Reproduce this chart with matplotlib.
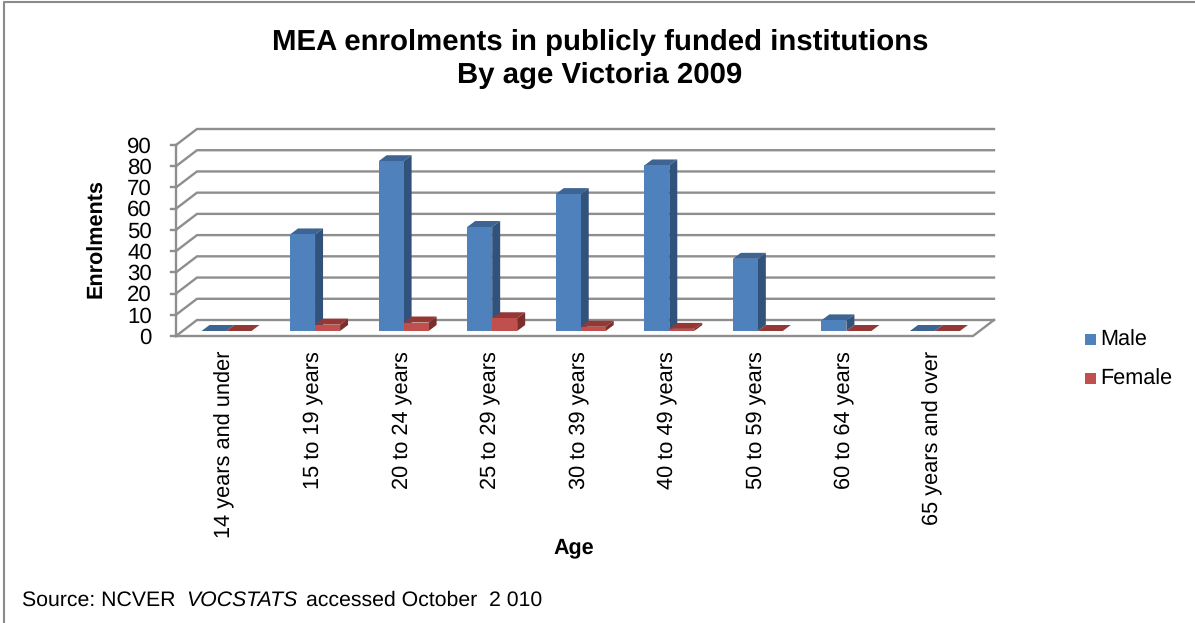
import matplotlib
matplotlib.use('Agg')
import matplotlib.pyplot as plt
from matplotlib.patches import Polygon, Rectangle

categories = ['14 years and under', '15 to 19 years', '20 to 24 years', '25 to 29 years',
              '30 to 39 years', '40 to 49 years', '50 to 59 years', '60 to 64 years',
              '65 years and over']
male = [0, 45.5, 80, 49, 64.5, 78, 34, 5, 0]
female = [0, 3, 4, 6, 2, 1, 0, 0, 0]
y_ticks = [0, 10, 20, 30, 40, 50, 60, 70, 80, 90]

W, H = 1195, 623
plt.rcParams['font.family'] = ['Liberation Sans', 'DejaVu Sans']
plt.rcParams['text.hinting'] = 'none'

fig = plt.figure(figsize=(W / 100, H / 100), dpi=100)
# front plane of the fake 3d box, in pixels
left, right, top, bottom = 176, 973, 145, 336
ax = fig.add_axes([left / W, 1 - bottom / H, (right - left) / W, (bottom - top) / H])
ax.set_xlim(0, 9)
ax.set_ylim(0, 90)
ax.axis('off')

# depth of the box and of the bars, in data units
ux = 9 / (right - left)
uy = 90 / (bottom - top)
box_dx, box_dy = 21 * ux, 16 * uy
bar_dx, bar_dy = 8 * ux, 6 * uy
bar_w = 25 * ux
bar_off = 25.5 * ux
base = 5 * uy


def box_bar(x, val, front, side, topc):
    y0 = base
    y1 = base + val
    ax.add_patch(Polygon([(x, y1), (x + bar_w, y1), (x + bar_w + bar_dx, y1 + bar_dy), (x + bar_dx, y1 + bar_dy)],
                         fc=topc, ec='none', zorder=3, clip_on=False))
    if val > 0:
        ax.add_patch(Polygon([(x + bar_w, y0), (x + bar_w + bar_dx, y0 + bar_dy), (x + bar_w + bar_dx, y1 + bar_dy), (x + bar_w, y1)],
                             fc=side, ec='none', zorder=3, clip_on=False))
        ax.add_patch(Rectangle((x, y0), bar_w, y1 - y0, fc=front, ec='none', zorder=4, clip_on=False))


grid = '#8e8e8e'
for t in y_ticks:
    ax.plot([0, box_dx, 9 + box_dx], [t, t + box_dy, t + box_dy], color=grid, lw=1.7, zorder=1, clip_on=False,
            solid_joinstyle='miter')
    ax.plot([-5 * ux, 0], [t, t], color=grid, lw=1.7, zorder=2, clip_on=False)
    ax.text(-24 * ux, t - 0.9, str(t), ha='right', va='center', fontsize=16, color='black')
ax.plot([0, 0], [0, 90], color=grid, lw=1.7, zorder=2, clip_on=False)
ax.plot([0, 9, 9 + box_dx], [0, 0, box_dy], color=grid, lw=1.7, zorder=2, clip_on=False)

for i, cat in enumerate(categories):
    x = i + bar_off
    box_bar(x, male[i], '#4f81bd', '#31527a', '#3d6493')
    box_bar(x + bar_w, female[i], '#c0504d', '#7a2f2d', '#953735')
    ax.text(i + 0.5 + 4 * ux, -15 * uy, cat, rotation=90, ha='center', va='top', fontsize=15.7, color='black')

# frame only has left and top edges in the picture, y measured from the top
frame = '#8a8a8a'
fig.add_artist(plt.Line2D([4 / W, 4 / W, 1], [0, 1 - 2 / H, 1 - 2 / H], transform=fig.transFigure, color=frame, lw=1.5))
fig.text(600 / W, 1 - 59 / H, 'MEA enrolments in publicly funded institutions\nBy age Victoria 2009',
         ha='center', va='center', fontsize=21.15, fontweight='bold', linespacing=1.25)
fig.text(97 / W, 1 - 239 / H, 'Enrolments', rotation=90, ha='center', va='center', fontsize=15.6, fontweight='bold')
fig.text(574 / W, 1 - 548 / H, 'Age', ha='center', va='center', fontsize=15.5, fontweight='bold')
fig.text(22 / W, 1 - 600 / H, 'Source: NCVER', ha='left', va='center', fontsize=15.3)
fig.text(186 / W, 1 - 600 / H, 'VOCSTATS', ha='left', va='center', fontsize=15.3, fontstyle='italic')
fig.text(306 / W, 1 - 600 / H, 'accessed October  2 010', ha='left', va='center', fontsize=15.3)

# legend drawn by hand to sit where it does in the chart
for label, col, yy in [('Male', '#4f81bd', 339), ('Female', '#c0504d', 378)]:
    fig.add_artist(Rectangle((1085 / W, 1 - (yy + 6) / H), 11 / W, 11 / H, transform=fig.transFigure, fc=col, ec='none'))
    fig.text(1100 / W, 1 - (yy + 1) / H, label, ha='left', va='center', fontsize=15.6)

fig.savefig('out.png', dpi=100)
